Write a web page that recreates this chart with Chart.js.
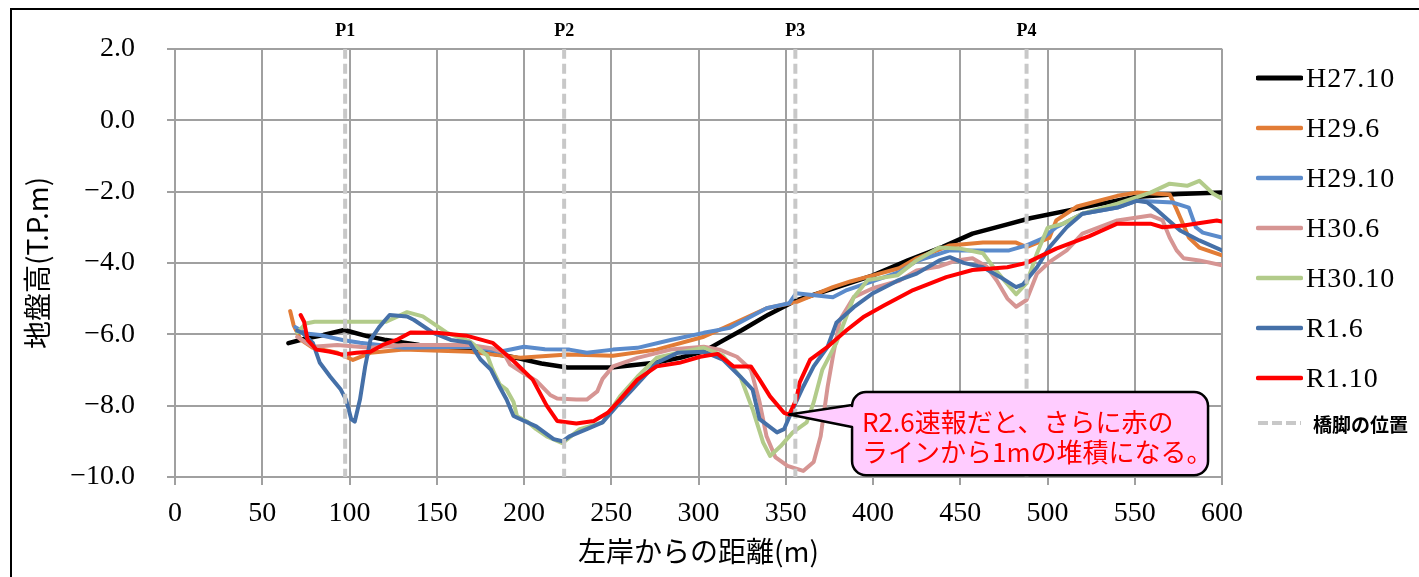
<!DOCTYPE html>
<html>
<head>
<meta charset="utf-8">
<script src="https://cdn.jsdelivr.net/npm/chart.js@4.4.1/dist/chart.umd.min.js"></script>
<style>
html, body { margin: 0; padding: 0; background: #fff; }
#wrap { position: relative; width: 1419px; height: 577px; overflow: hidden; }
#frame { position: absolute; left: 10px; top: 8px; width: 1500px; height: 700px; border: 2px solid #000; }
#myChart { position: absolute; left: 0; top: 0; }
#legend { position: absolute; left: 1256px; top: 53px; }
.item { display: flex; align-items: center; height: 50px; }
.item svg { flex: none; }
.item span { font: 28px "Liberation Serif", serif; margin-left: 3px; letter-spacing: 1px; }
.item.pier { height: 40px; }
.item.pier span { font: bold 19px "Noto Sans CJK JP", sans-serif; margin-left: 10px; letter-spacing: 0; }
</style>
</head>
<body>
<div id="wrap">
  <div id="frame"></div>
  <canvas id="myChart" width="1419" height="577"></canvas>
  <div id="legend"></div>
</div>
<script>
// axis ticks
const xTicks = [0, 50, 100, 150, 200, 250, 300, 350, 400, 450, 500, 550, 600];
const yTicks = [2, 0, -2, -4, -6, -8, -10];

// bridge piers (distance from left bank, m)
const pierNames = ['P1', 'P2', 'P3', 'P4'];
const pierX = [97.5, 223, 355.5, 488];

// survey profiles [distance m, ground level T.P.m]
const H27_10 = [[65,-6.25],[75,-6.12],[85,-6.02],[97,-5.88],[110,-6.05],[120,-6.15],[140,-6.3],[165,-6.42],[190,-6.6],[210,-6.82],[225,-6.93],[250,-6.93],[275,-6.8],[290,-6.65],[303,-6.48],[315,-6.15],[325,-5.88],[340,-5.45],[356,-5.05],[377,-4.72],[400,-4.35],[420,-3.93],[440,-3.55],[457,-3.18],[477,-2.92],[490,-2.75],[515,-2.5],[550,-2.15],[575,-2.07],[600,-2.03]];
const H29_6 = [[66,-5.35],[68,-5.75],[72,-6.15],[79,-6.38],[93,-6.52],[102,-6.72],[112,-6.52],[131,-6.43],[169,-6.49],[198,-6.66],[225,-6.57],[251,-6.6],[276,-6.43],[303,-6.07],[320,-5.7],[339,-5.27],[356,-5.1],[377,-4.68],[387,-4.52],[400,-4.35],[415,-4.15],[425,-3.87],[444,-3.51],[463,-3.43],[482,-3.43],[488,-3.56],[501,-3.3],[505,-2.81],[517,-2.42],[540,-2.12],[551,-2.03],[570,-2.08],[574,-2.5],[581,-3.29],[587,-3.57],[600,-3.79]];
const H29_10 = [[69,-5.8],[75,-5.98],[83,-6.02],[96,-6.16],[106,-6.24],[117,-6.3],[131,-6.38],[169,-6.35],[186,-6.49],[200,-6.35],[212,-6.42],[226,-6.43],[236,-6.52],[251,-6.43],[265,-6.38],[284,-6.16],[303,-5.96],[318,-5.82],[339,-5.27],[352,-5.13],[356,-4.85],[377,-4.96],[385,-4.76],[415,-4.26],[425,-3.95],[444,-3.65],[478,-3.65],[488,-3.51],[497,-3.32],[505,-3.0],[520,-2.62],[540,-2.45],[551,-2.26],[572,-2.31],[581,-2.45],[585,-3.0],[589,-3.15],[600,-3.29]];
const H30_6 = [[70,-6.07],[79,-6.35],[93,-6.3],[112,-6.38],[131,-6.3],[169,-6.3],[182,-6.4],[188,-6.5],[192,-6.85],[200,-7.1],[207,-7.3],[215,-7.7],[219,-7.8],[230,-7.83],[236,-7.83],[242,-7.6],[245,-7.25],[251,-6.9],[265,-6.66],[284,-6.43],[303,-6.35],[312,-6.43],[322,-6.63],[330,-6.99],[335,-7.9],[339,-8.86],[344,-9.44],[351,-9.69],[360,-9.83],[366,-9.58],[370,-8.86],[374,-7.47],[377,-6.63],[381,-5.6],[389,-4.96],[400,-4.71],[415,-4.5],[425,-4.21],[438,-4.1],[448,-3.93],[457,-3.87],[465,-4.1],[471,-4.5],[477,-5.0],[482,-5.23],[488,-5.04],[494,-4.3],[501,-3.98],[511,-3.65],[520,-3.18],[540,-2.81],[559,-2.67],[566,-2.81],[570,-3.29],[574,-3.65],[578,-3.87],[587,-3.93],[600,-4.07]];
const H30_10 = [[70,-5.95],[75,-5.7],[80,-5.65],[121,-5.65],[133,-5.38],[142,-5.5],[156,-5.96],[169,-6.2],[179,-6.6],[182,-6.99],[186,-7.4],[190,-7.55],[194,-7.9],[196,-8.3],[202,-8.45],[207,-8.66],[213,-8.86],[222,-9.05],[232,-8.66],[245,-8.47],[255,-7.74],[265,-7.19],[276,-6.66],[288,-6.52],[303,-6.38],[314,-6.6],[324,-7.19],[331,-8.1],[337,-9.03],[341,-9.41],[347,-9.14],[354,-8.75],[362,-8.47],[366,-7.91],[371,-6.99],[379,-6.24],[389,-4.96],[397,-4.48],[414,-4.35],[425,-3.93],[438,-3.57],[450,-3.6],[463,-3.73],[469,-4.12],[475,-4.48],[482,-4.88],[488,-4.57],[494,-3.73],[500,-3.02],[509,-2.9],[520,-2.62],[540,-2.34],[559,-2.03],[570,-1.78],[580,-1.84],[587,-1.7],[595,-2.06],[600,-2.2]];
const R1_6 = [[70,-5.9],[73,-5.96],[79,-6.24],[83,-6.8],[89,-7.19],[95,-7.55],[98,-7.83],[101,-8.38],[103,-8.45],[106,-7.83],[109,-6.9],[112,-6.16],[117,-5.8],[123,-5.46],[133,-5.5],[137,-5.6],[148,-5.96],[158,-6.16],[169,-6.24],[175,-6.7],[181,-6.99],[186,-7.47],[190,-7.83],[194,-8.29],[198,-8.38],[207,-8.58],[217,-8.94],[222,-9.0],[226,-8.86],[236,-8.66],[245,-8.47],[253,-8.02],[262,-7.55],[276,-6.8],[288,-6.52],[303,-6.49],[314,-6.71],[324,-7.19],[331,-7.55],[335,-8.38],[345,-8.75],[349,-8.66],[354,-8.1],[360,-7.47],[366,-6.9],[374,-6.35],[379,-5.68],[389,-5.24],[400,-4.85],[414,-4.5],[425,-4.3],[438,-3.93],[444,-3.84],[452,-4.0],[463,-4.12],[473,-4.4],[482,-4.68],[486,-4.6],[494,-4.12],[501,-3.57],[511,-3.0],[520,-2.62],[540,-2.45],[551,-2.26],[557,-2.3],[563,-2.53],[576,-3.09],[587,-3.37],[600,-3.65]];
const R1_10 = [[72,-5.46],[74,-5.65],[76,-6.16],[81,-6.43],[89,-6.49],[96,-6.57],[104,-6.52],[112,-6.49],[119,-6.3],[127,-6.16],[135,-5.95],[150,-5.96],[167,-6.04],[182,-6.24],[194,-6.75],[205,-7.27],[213,-8.0],[219,-8.43],[230,-8.5],[240,-8.43],[248,-8.2],[255,-7.83],[265,-7.27],[276,-6.9],[289,-6.8],[301,-6.63],[311,-6.55],[320,-6.9],[330,-6.9],[335,-7.27],[341,-7.74],[349,-8.2],[352,-8.25],[356,-7.83],[358,-7.35],[364,-6.71],[374,-6.35],[385,-5.88],[395,-5.5],[406,-5.2],[423,-4.76],[442,-4.4],[457,-4.2],[477,-4.12],[488,-4.0],[505,-3.6],[524,-3.25],[540,-2.9],[559,-2.9],[566,-3.0],[578,-2.95],[597,-2.81],[600,-2.84]];

const seriesNames = ['H27.10', 'H29.6', 'H29.10', 'H30.6', 'H30.10', 'R1.6', 'R1.10'];
const seriesData = [H27_10, H29_6, H29_10, H30_6, H30_10, R1_6, R1_10];
const seriesColors = ['#000000', '#E27C36', '#5B8BCB', '#D69593', '#B2CB8A', '#4570A8', '#FF0000'];
const pierLabel = '橋脚の位置';

// callout on the R1.10 trough
const noteLines = ['R2.6速報だと、さらに赤の', 'ラインから1mの堆積になる。'];
const noteTip = [352, -8.25];
const noteBox = [388, 592, -7.62, -9.95];
const notePointer = [-7.98, -8.6];

const gridColor = '#A0A0A0';

const pierLabels = {
    id: 'pierLabels',
    afterDraw(chart) {
        const ctx = chart.ctx;
        const xs = chart.scales.x;
        ctx.save();
        ctx.font = 'bold 18px "Liberation Serif", serif';
        ctx.fillStyle = '#000';
        ctx.textAlign = 'center';
        ctx.textBaseline = 'middle';
        pierNames.forEach((name, i) => {
            ctx.fillText(name, xs.getPixelForValue(pierX[i]), chart.chartArea.top - 17);
        });
        ctx.restore();
    }
};

const callout = {
    id: 'callout',
    afterDraw(chart) {
        const ctx = chart.ctx;
        const xs = chart.scales.x, ys = chart.scales.y;
        const x1 = xs.getPixelForValue(noteBox[0]), x2 = xs.getPixelForValue(noteBox[1]);
        const y1 = ys.getPixelForValue(noteBox[2]), y2 = ys.getPixelForValue(noteBox[3]);
        const tx = xs.getPixelForValue(noteTip[0]), ty = ys.getPixelForValue(noteTip[1]);
        const p1 = ys.getPixelForValue(notePointer[0]), p2 = ys.getPixelForValue(notePointer[1]);
        const r = 14;
        ctx.save();
        ctx.beginPath();
        ctx.moveTo(x1 + r, y1);
        ctx.lineTo(x2 - r, y1);
        ctx.arcTo(x2, y1, x2, y1 + r, r);
        ctx.lineTo(x2, y2 - r);
        ctx.arcTo(x2, y2, x2 - r, y2, r);
        ctx.lineTo(x1 + r, y2);
        ctx.arcTo(x1, y2, x1, y2 - r, r);
        ctx.lineTo(x1, p2);
        ctx.lineTo(tx, ty);
        ctx.lineTo(x1, p1);
        ctx.lineTo(x1, y1 + r);
        ctx.arcTo(x1, y1, x1 + r, y1, r);
        ctx.closePath();
        ctx.fillStyle = '#FFCCFF';
        ctx.fill();
        ctx.lineWidth = 2.5;
        ctx.lineJoin = 'round';
        ctx.strokeStyle = '#000';
        ctx.stroke();
        ctx.font = '26px "Noto Sans CJK JP", sans-serif';
        ctx.fillStyle = '#FF0000';
        ctx.textAlign = 'left';
        ctx.textBaseline = 'middle';
        noteLines.forEach((t, i) => ctx.fillText(t, x1 + 10, y1 + 30 + i * 30));
        ctx.restore();
    }
};

function createChart() {
    const datasets = seriesData.map((pts, i) => ({
        label: seriesNames[i],
        data: pts.map(p => ({ x: p[0], y: p[1] })),
        borderColor: seriesColors[i],
        backgroundColor: seriesColors[i],
        borderWidth: i === 0 ? 4.5 : 4,
        pointRadius: 0,
        borderJoinStyle: 'round',
        borderCapStyle: 'round',
        order: -i
    }));
    datasets.push({
        label: pierLabel,
        data: pierX.flatMap(x => [{ x: x, y: 2 }, { x: x, y: -10 }, { x: x, y: null }]),
        borderColor: '#C8C8C8',
        borderWidth: 4,
        borderDash: [10, 5],
        pointRadius: 0,
        order: -10
    });

    const ctx = document.getElementById('myChart').getContext('2d');
    const myChart = new Chart(ctx, {
        type: 'line',
        data: { datasets: datasets },
        plugins: [pierLabels, callout],
        options: {
            responsive: false,
            animation: false,
            devicePixelRatio: 1,
            layout: { padding: { left: 14, top: 47, right: 197, bottom: 0 } },
            plugins: { legend: { display: false }, tooltip: { enabled: false } },
            scales: {
                x: {
                    type: 'linear',
                    min: 0,
                    max: 600,
                    afterBuildTicks: s => { s.ticks = xTicks.map(v => ({ value: v })); },
                    afterFit: s => { s.height = 100; },
                    ticks: { color: '#000', font: { family: '"Liberation Serif", serif', size: 28 }, padding: 12 },
                    grid: { color: gridColor, lineWidth: 2, tickLength: 8 },
                    border: { color: gridColor, width: 2 },
                    title: {
                        display: true,
                        text: '左岸からの距離(m)',
                        color: '#000',
                        font: { family: '"Noto Sans CJK JP", sans-serif', size: 28 },
                        padding: { top: 0, bottom: 9 }
                    }
                },
                y: {
                    min: -10,
                    max: 2,
                    afterBuildTicks: s => { s.ticks = yTicks.map(v => ({ value: v })); },
                    afterFit: s => { s.width = 161; },
                    ticks: {
                        color: '#000',
                        font: { family: '"Liberation Serif", serif', size: 28 },
                        padding: 32,
                        callback: v => v.toFixed(1).replace('-', '\u2212')
                    },
                    grid: { color: gridColor, lineWidth: 2, tickLength: 8 },
                    border: { color: gridColor, width: 2 },
                    title: {
                        display: true,
                        text: '地盤高(T.P.m)',
                        color: '#000',
                        font: { family: '"Noto Sans CJK JP", sans-serif', size: 28 },
                        padding: { top: 7, bottom: 0 }
                    }
                }
            }
        }
    });

    // legend from the datasets
    const legend = document.getElementById('legend');
    myChart.data.datasets.forEach(ds => {
        const row = document.createElement('div');
        const dashed = !!ds.borderDash;
        row.className = dashed ? 'item pier' : 'item';
        row.innerHTML = '<svg width="47" height="10"><line x1="2" y1="5" x2="45" y2="5" stroke="' + ds.borderColor +
            '" stroke-width="' + (dashed ? 4 : ds.borderWidth + 0.5) + '"' +
            (dashed ? ' stroke-dasharray="10 4"' : ' stroke-linecap="round"') + '/></svg><span>' + ds.label + '</span>';
        legend.appendChild(row);
    });
}

createChart();
</script>
</body>
</html>
